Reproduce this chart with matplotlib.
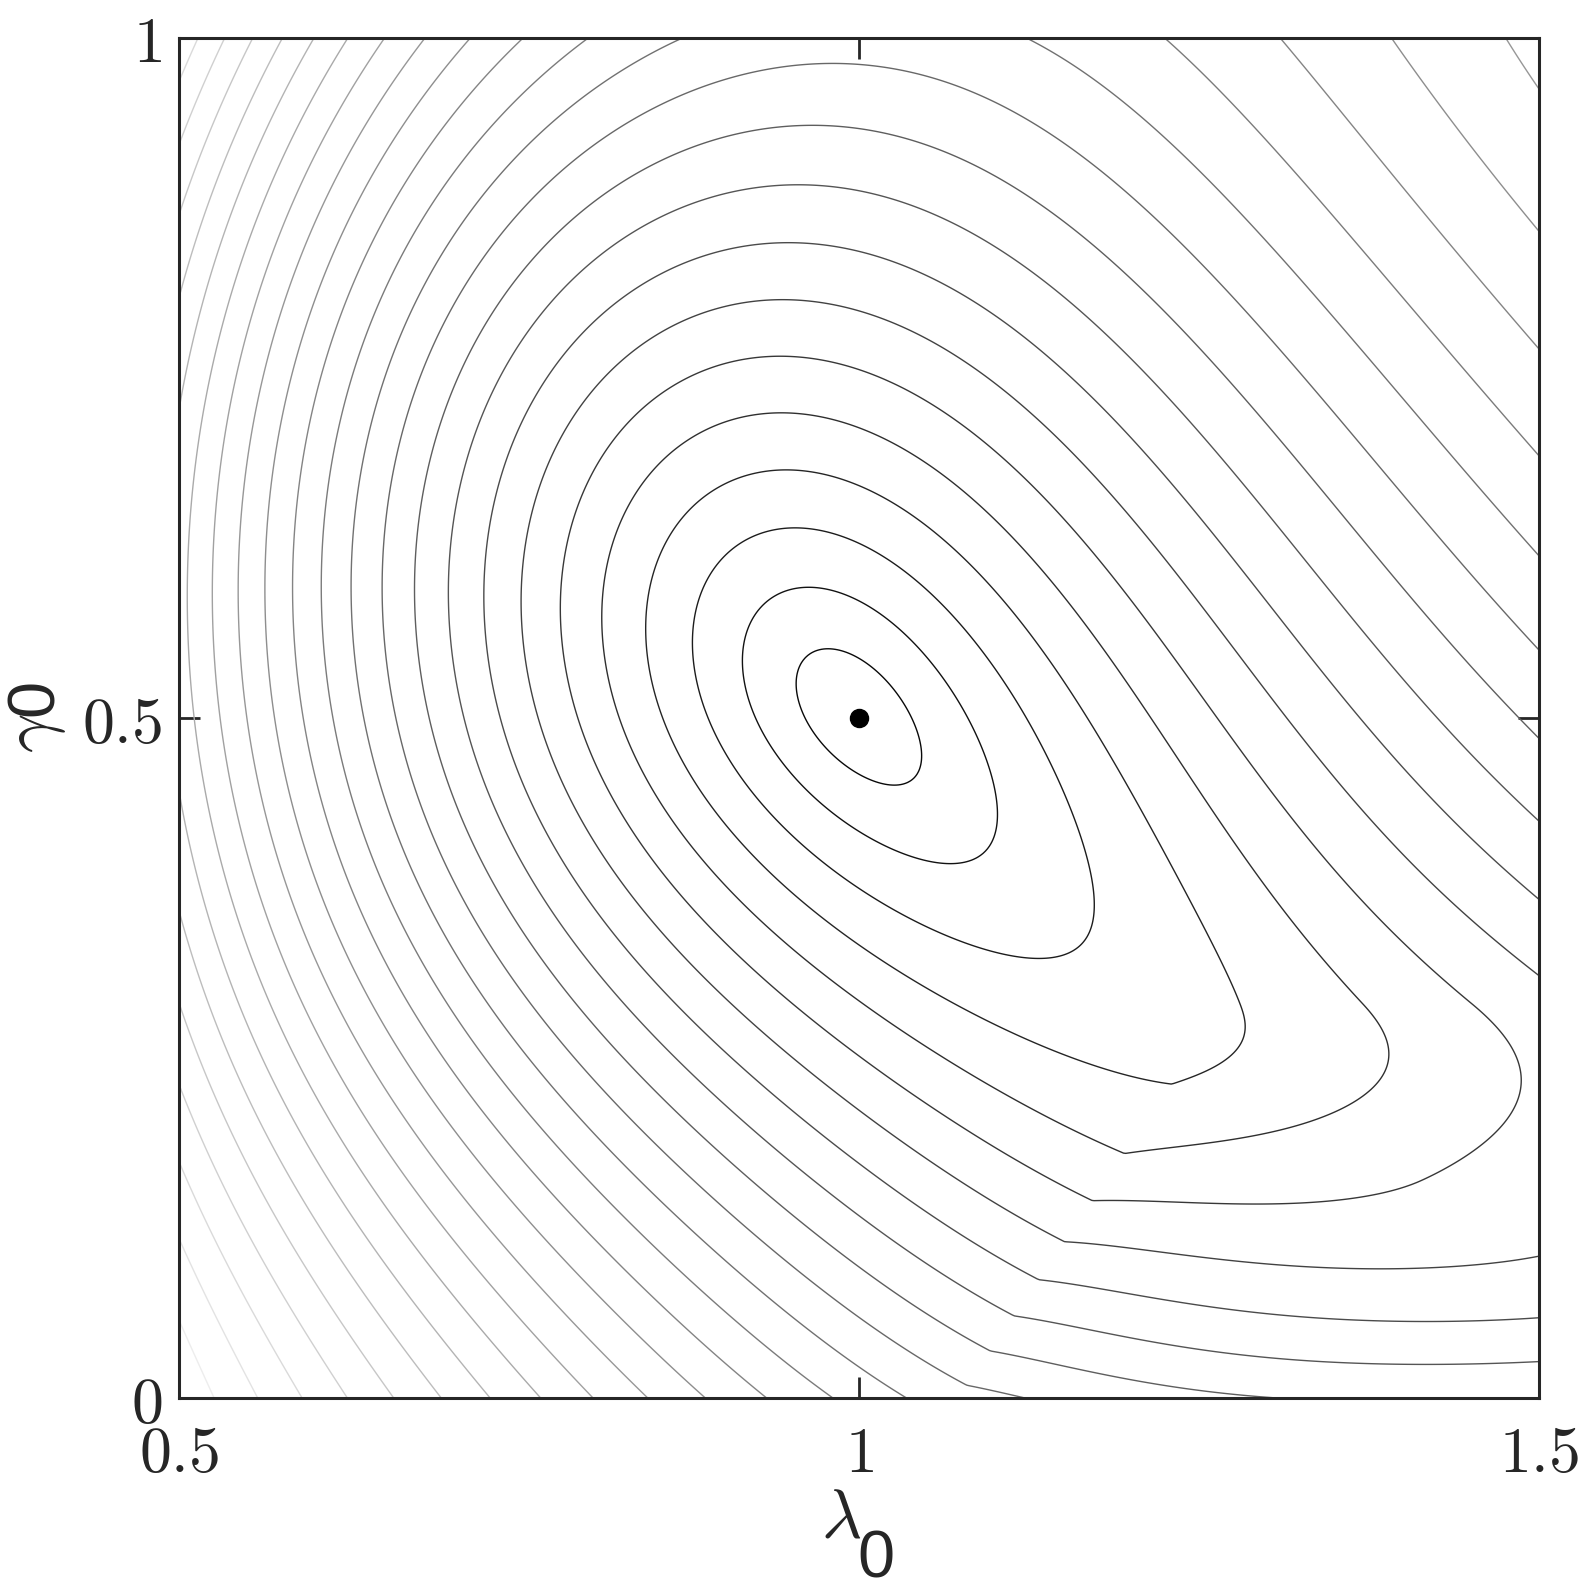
import numpy as np
import matplotlib
matplotlib.use("Agg")
import matplotlib.pyplot as plt

plt.rcParams["mathtext.fontset"] = "cm"

# --- contour crossings (lambda0, gamma0 -> contour index) ---
# rows at fixed gamma0
lam_g000 = [0.500, 0.556, 0.590, 0.624, 0.657, 0.691, 0.729, 0.768, 0.807, 0.847, 0.890,
            0.935, 0.982, 1.032, 1.101, 1.376, 1.500]
lev_g000 = [25.8, 24, 23, 22, 21, 20, 19, 18, 17, 16, 15, 14, 13, 12, 11, 10, 9.6]

lam_g025 = [0.517, 0.542, 0.565, 0.591, 0.618, 0.644, 0.671, 0.700, 0.732, 0.764, 0.798,
            0.834, 0.872, 0.911, 0.957, 1.004, 1.067, 1.156, 1.276, 1.393, 1.485]
lev_g025 = [21, 20, 19, 18, 17, 16, 15, 14, 13, 12, 11, 10, 9, 8, 7, 6, 5, 4, 4, 5, 6]

lam_g050 = [0.509, 0.528, 0.548, 0.567, 0.588, 0.610, 0.633, 0.657, 0.682, 0.706, 0.732,
            0.759, 0.787, 0.817, 0.850, 0.883, 0.920, 0.958, 1.000, 1.038, 1.076, 1.119,
            1.163, 1.210, 1.259, 1.310, 1.365, 1.421, 1.483]
lev_g050 = [18, 17, 16, 15, 14, 13, 12, 11, 10, 9, 8, 7, 6, 5, 4, 3, 2, 1, 0, 1, 2, 3,
            4, 5, 6, 7, 8, 9, 10]

lam_g075 = [0.504, 0.524, 0.544, 0.565, 0.586, 0.607, 0.631, 0.655, 0.682, 0.710, 0.740,
            0.775, 0.817, 0.871, 1.014, 1.085, 1.150, 1.209, 1.267, 1.326, 1.386, 1.449]
lev_g075 = [19, 18, 17, 16, 15, 14, 13, 12, 11, 10, 9, 8, 7, 6, 6, 7, 8, 9, 10, 11, 12, 13]

lam_g100 = [0.500, 0.505, 0.518, 0.533, 0.552, 0.573, 0.597, 0.624, 0.651, 0.682, 0.715,
            0.754, 0.800, 0.871, 1.120, 1.224, 1.313, 1.393, 1.475, 1.500]
lev_g100 = [24.0, 24, 23, 22, 21, 20, 19, 18, 17, 16, 15, 14, 13, 12, 12, 13, 14, 15, 16, 16.3]

# columns at fixed lambda0
gam_l050 = [0.061, 0.107, 0.160, 0.219, 0.291, 0.376, 0.475, 0.738, 0.803, 0.882, 0.941, 0.987]
lev_l050 = [25, 24, 23, 22, 21, 20, 19, 19, 20, 21, 22, 23]

gam_l150 = [0.030, 0.068, 0.115, 0.215, 0.304, 0.362, 0.421, 0.491, 0.554, 0.621, 0.693,
            0.772, 0.861, 0.965]
lev_l150 = [9, 8, 7, 6.1, 7, 8, 9, 10, 11, 12, 13, 14, 15, 16]

# tops of the closed arcs above the minimum
lam_top = [0.979, 0.955, 0.955, 0.950, 0.950, 0.945, 0.945, 0.945, 0.945, 0.945, 0.945]
gam_top = [0.554, 0.600, 0.643, 0.685, 0.726, 0.768, 0.810, 0.851, 0.893, 0.935, 0.980]
lev_top = [1, 2, 3, 4, 5, 6, 7, 8, 9, 10, 11]

# other points on the inner contours
lam_pts = [0.958, 1.047, 1.038, 1.068, 1.103, 1.131, 1.173, 1.243, 1.278, 1.240, 0.509]
gam_pts = [0.528, 0.476, 0.456, 0.392, 0.421, 0.323, 0.360, 0.234, 0.268, 0.366, 0.606]
lev_pts = [1, 1, 1, 2, 2, 3, 3, 4, 4, 4, 18]

# lower right: corners of the contours and the flat stretches to their right
lam_low = [1.199, 1.232, 1.339, 1.380, 1.390, 1.302,
           1.171, 1.278, 1.432, 1.470, 1.488, 1.368,
           1.148, 1.232, 1.324, 1.440,
           1.129, 1.247, 1.371,
           1.109, 1.247, 1.371,
           1.096, 1.215,
           1.081]
gam_low = [0.177, 0.176, 0.195, 0.219, 0.249, 0.366,
           0.144, 0.136, 0.155, 0.180, 0.221, 0.366,
           0.115, 0.105, 0.099, 0.366,
           0.086, 0.072, 0.063,
           0.060, 0.040, 0.032,
           0.030, 0.018,
           0.005]
lev_low = [5, 5, 5, 5, 5, 5,
           6, 6, 6, 6, 6, 6,
           7, 7, 7, 7,
           8, 8, 8,
           9, 9, 9,
           10, 10,
           11]

# line through the corners of the lower contours: lambda0 = a + b * gamma0
kink_a, kink_b = 1.073, 0.68

levels = np.arange(1, 27)
lam_min, gam_min = 1.0, 0.5


def collect():
    lam, gam, lev = [], [], []
    for g, xs, ks in [(0.0, lam_g000, lev_g000), (0.25, lam_g025, lev_g025),
                      (0.5, lam_g050, lev_g050), (0.75, lam_g075, lev_g075),
                      (1.0, lam_g100, lev_g100)]:
        lam += xs; gam += [g] * len(xs); lev += ks
    for l, ys, ks in [(0.5, gam_l050, lev_l050), (1.5, gam_l150, lev_l150)]:
        lam += [l] * len(ys); gam += ys; lev += ks
    lam += lam_top + lam_pts + lam_low
    gam += gam_top + gam_pts + gam_low
    lev += lev_top + lev_pts + lev_low
    return np.array(lam), np.array(gam), np.array(lev, dtype=float)


def basis(x, y, deg):
    X = 2 * (x - 1.0)
    Y = 2 * (y - 0.5)
    cols = [X ** i * Y ** j for i in range(deg + 1) for j in range(deg + 1 - i)]
    # hinge along the corner line, softly capped and faded out above the valley
    d = np.maximum(0, x - (kink_a + kink_b * y))
    d = d / (1 + d / 0.15)
    t = np.clip((0.29 - y) / 0.13, 0, 1)
    h = d * t * t * (3 - 2 * t) * 4
    cols += [h, h * X, h * Y]
    return np.stack(cols, axis=-1)


# least-squares surface for the squared contour index
lam, gam, lev = collect()
deg = 7
A = basis(lam, gam, deg)
w = 1.0 / (2 * lev + 1)
reg = 1e-4
A_aug = np.vstack([A * w[:, None], np.sqrt(reg) * np.eye(A.shape[1])])
b_aug = np.concatenate([lev ** 2 * w, np.zeros(A.shape[1])])
coef = np.linalg.lstsq(A_aug, b_aug, rcond=None)[0]

gl = np.linspace(0.5, 1.5, 600)
gg = np.linspace(0.0, 1.0, 600)
LAM, GAM = np.meshgrid(gl, gg)
Z = np.sqrt(np.clip(basis(LAM, GAM, deg) @ coef, 0, None))

fig = plt.figure(figsize=(15.9, 15.92), dpi=100)
ax = fig.add_axes([179 / 1590, 1 - 1398 / 1592, 1360 / 1590, 1360 / 1592])
ax.contour(LAM, GAM, Z, levels=levels, cmap="gray", vmin=0, vmax=27, linewidths=1.0)
ax.plot(lam_min, gam_min, "o", color="black", ms=13)

ax.set_xlim(0.5, 1.5)
ax.set_ylim(0, 1)
ax.set_xticks([0.5, 1, 1.5])
ax.set_xticklabels([r"$0.5$", r"$1$", r"$1.5$"])
ax.set_yticks([0, 0.5, 1])
ax.set_yticklabels([r"$0$", r"$0.5$", r"$1$"])
ax.tick_params(direction="in", length=15, width=2, top=True, right=True,
               labelsize=46, colors="#262626")
ax.tick_params(axis="x", pad=18)
ax.tick_params(axis="y", pad=12)
for s in ax.spines.values():
    s.set_linewidth(2.2)
    s.set_color("#262626")

fig.text(0.529, 0.0465, r"$\lambda$", fontsize=50, ha="center", va="center", color="#262626")
fig.text(0.551, 0.0201, "0", fontsize=48, family="Liberation Sans", ha="center", va="center",
         color="#262626")
fig.text(0.0215, 0.5396, r"$\gamma$", fontsize=50, rotation=90, ha="center", va="center",
         color="#262626")
fig.text(0.0225, 0.5616, "0", fontsize=48, family="Liberation Sans", rotation=90,
         ha="center", va="center", color="#262626")

fig.savefig("out.png", dpi=100)
